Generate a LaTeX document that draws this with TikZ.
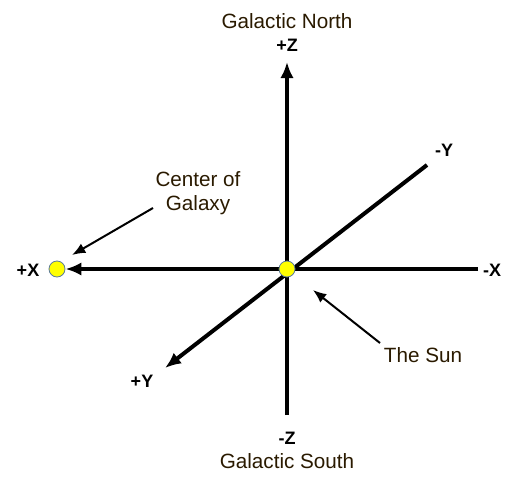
\documentclass[tikz,border=0pt]{standalone}
\usepackage{fontspec}
\setmainfont{Liberation Sans}
\usetikzlibrary{arrows.meta}

\begin{document}
\begin{tikzpicture}[x=0.75pt, y=-0.75pt]

		\definecolor{sunfill}{HTML}{FFFF00}
		\definecolor{sunedge}{HTML}{5A7A9A}
		\definecolor{labelcol}{HTML}{2A1A00}

		\tikzset{
			axis/.style={line width=3pt, -{Latex[length=12pt, width=10pt]}},
			pointer/.style={line width=1.5pt, -{Latex[length=10pt, width=8pt]}},
			axislabel/.style={font=\fontsize{13.5pt}{16pt}\selectfont\bfseries, inner sep=1pt},
			caption/.style={font=\fontsize{15.5pt}{17.5pt}\selectfont, text=labelcol, align=center, inner sep=1pt},
			dot/.style={circle, fill=sunfill, draw=sunedge, line width=0.6pt, minimum size=12pt, inner sep=0pt}
		}

		\useasboundingbox (0,0) rectangle (523,485);

		% Axis end points
		\coordinate (xneg) at (478,269);
		\coordinate (ztop) at (287,62);
		\coordinate (zbot) at (287,415);
		\coordinate (ytop) at (427,165);
		\coordinate (ybot) at (165,368);
		\coordinate (galtip) at (72,255);
		\coordinate (galtail) at (153,208);
		\coordinate (suntip) at (313,290);
		\coordinate (suntail) at (380,343);

		% Markers
		\node[dot] (gal) at (57,269) {};

		% Axes
		\draw[axis] (xneg) -- (gal);
		\draw[axis] (zbot) -- (ztop);
		\draw[axis] (ytop) -- (ybot);

		\node[dot] (sun) at (287,269) {};

		% Axis labels
		\node[axislabel] (xp) at (28,270) {+X};
		\node[axislabel] (xm) at (492,270) {-X};
		\node[axislabel] (zp) at (287,45) {+Z};
		\node[axislabel] (zm) at (287,438) {-Z};
		\node[axislabel] (ym) at (444,150) {-Y};
		\node[axislabel] (yp) at (142,381) {+Y};

		% Captions
		\node[caption] (north) at (287,21) {Galactic North};
		\node[caption] (south) at (287,461) {Galactic South};
		\node[caption] (center) at (198,193) {Center of\\Galaxy};
		\node[caption] (thesun) at (423,355) {The Sun};

		% Pointers
		\draw[pointer] (galtail) -- (galtip);
		\draw[pointer] (suntail) -- (suntip);

	\end{tikzpicture}
\end{document}
